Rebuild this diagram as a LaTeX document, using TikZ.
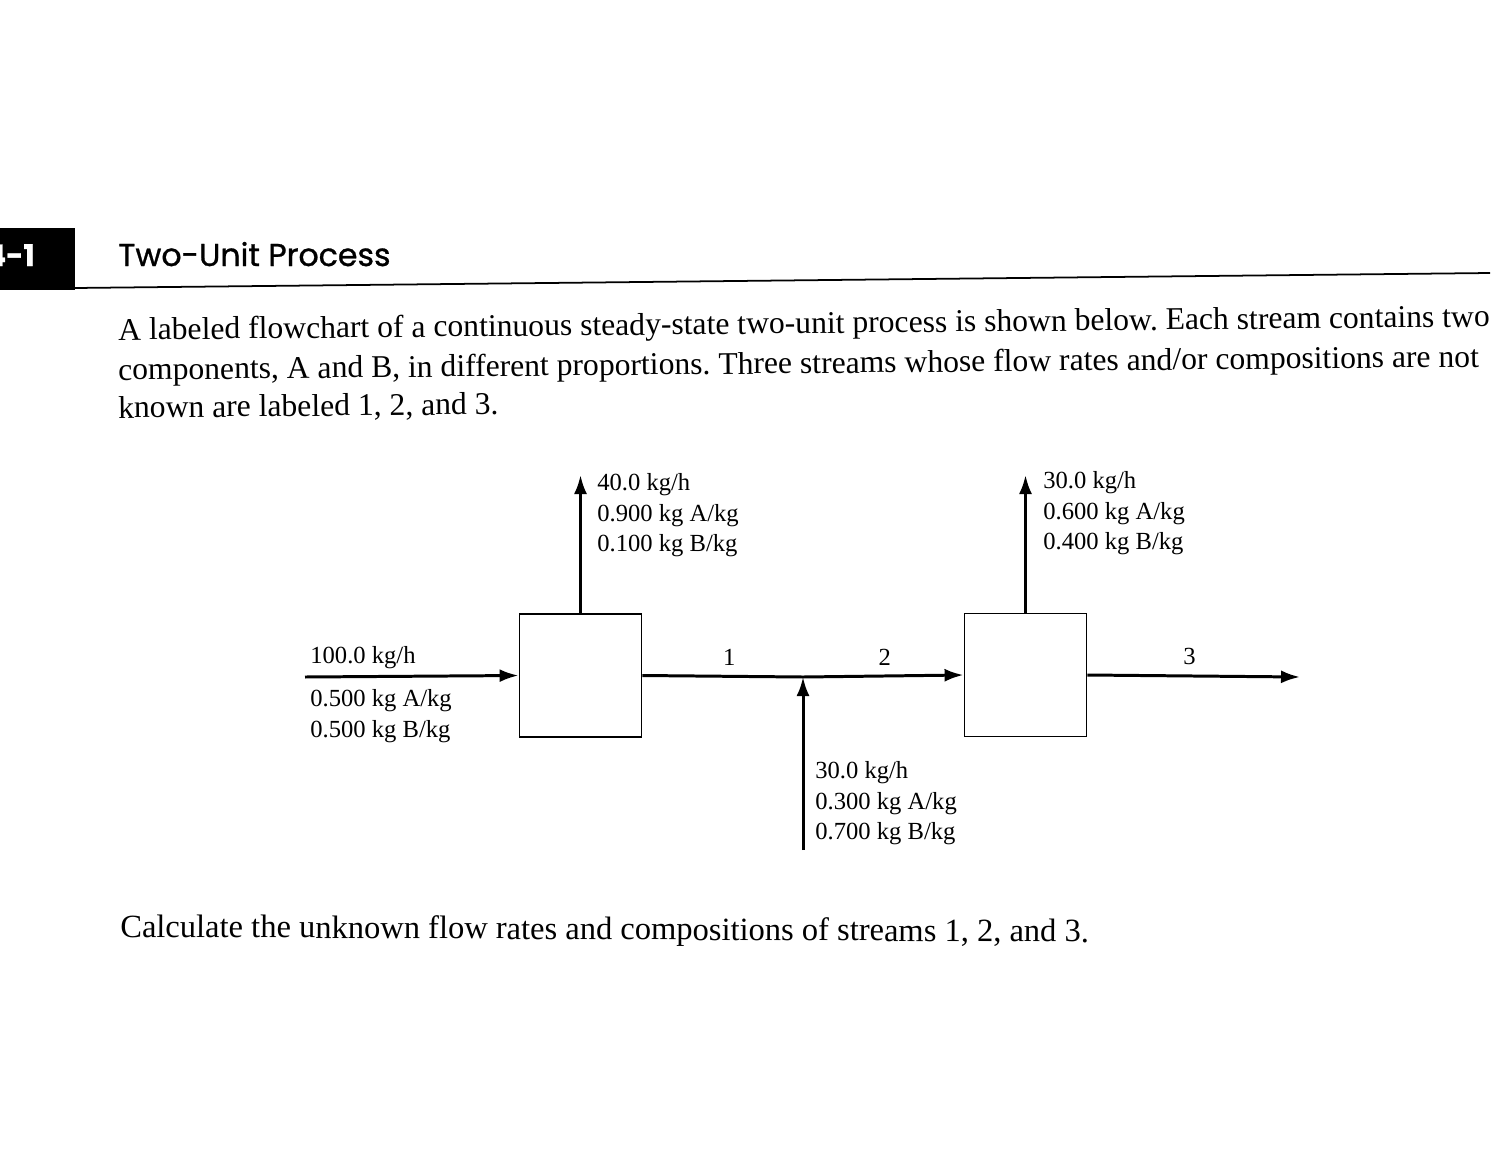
\documentclass[tikz,border=0pt]{standalone}
\usepackage{fontspec}
\setmainfont{Liberation Serif}
\newfontfamily\headfont[FakeBold = 0.9]{Poppins}
\usetikzlibrary{arrows.meta, positioning}
\frenchspacing

\begin{document}
\begin{tikzpicture}[x = 0.02cm, y = -0.02cm]
        \useasboundingbox (0, 0) rectangle (1500, 1159);
        \tikzset{
          unit/.style = {draw, rectangle, line width = 1.1pt, minimum width = 2.44cm, minimum height = 2.46cm, inner sep = 0pt},
          stream/.style = {draw, line width = 1.7pt},
          flow/.style = {stream, -{Latex[length = 3.8mm, width = 2.6mm]}},
          lbl/.style = {anchor = base west, inner sep = 0pt, font = \fontsize{14}{17}\selectfont},
          para/.style = {anchor = base west, inner sep = 0pt, font = \fontsize{18}{22}\selectfont}
        }

        % heading
        \fill (0, 228) rectangle (75, 290);
        \node[anchor = base east, inner sep = 0pt, text = white, font = \headfont\bfseries\fontsize{17}{20}\selectfont] at (35, 266) (num) {4-1};
        \node[anchor = base west, inner sep = 0pt, font = \headfont\fontsize{18}{20}\selectfont] at (118, 266) (title) {Two-Unit Process};
        \path[draw, line width = 1pt] (75, 288) -- (1490, 273);

        \node[para, rotate = 0.55] at (118, 340) (p1) {A labeled flowchart of a continuous steady-state two-unit process is shown below. Each stream contains two};
        \node[para, rotate = 0.55] at (118, 380) (p2) {components, A and B, in different proportions. Three streams whose flow rates and/or compositions are not};
        \node[para, rotate = 0.55] at (118, 418) (p3) {known are labeled 1, 2, and 3.};

        % units
        \node[unit] at (580.5, 675.5) (u1) {};
        \node[unit] at (1025.5, 675) (u2) {};
        \coordinate (feed) at (305, 677);
        \coordinate (mix) at (803, 677);
        \coordinate (fresh) at (803, 850);
        \coordinate (top1) at (580.5, 475);
        \coordinate (top2) at (1025.5, 475);
        \coordinate (prod) at (1300, 677);

        \path[flow] (feed) -- (u1.west);
        \path[flow] (u1.north) -- (top1);
        \path[stream] (u1.east) -- (mix) node [above = 2pt, pos = 0.54, font = \fontsize{14}{17}\selectfont] (s1) {1};
        \path[flow] (mix) -- (u2.west) node [above = 2pt, pos = 0.51, font = \fontsize{14}{17}\selectfont] (s2) {2};
        \path[flow] (fresh) -- (mix);
        \path[flow] (u2.north) -- (top2);
        \path[flow] (u2.east) -- (prod) node [above = 2pt, pos = 0.48, font = \fontsize{14}{17}\selectfont] (s3) {3};

        % stream data
        \node[lbl] at (310, 663) (f0) {100.0 kg/h};
        \node[lbl] at (310, 706) (f1) {0.500 kg A/kg};
        \node[lbl] at ([yshift = -0.62cm] f1.base west) (f2) {0.500 kg B/kg};

        \node[lbl] at (597, 490) (a0) {40.0 kg/h};
        \node[lbl] at ([yshift = -0.62cm] a0.base west) (a1) {0.900 kg A/kg};
        \node[lbl] at ([yshift = -0.62cm] a1.base west) (a2) {0.100 kg B/kg};

        \node[lbl] at (1043, 488) (b0) {30.0 kg/h};
        \node[lbl] at ([yshift = -0.62cm] b0.base west) (b1) {0.600 kg A/kg};
        \node[lbl] at ([yshift = -0.62cm] b1.base west) (b2) {0.400 kg B/kg};

        \node[lbl] at (815, 778) (c0) {30.0 kg/h};
        \node[lbl] at ([yshift = -0.62cm] c0.base west) (c1) {0.300 kg A/kg};
        \node[lbl] at ([yshift = -0.62cm] c1.base west) (c2) {0.700 kg B/kg};

        \node[para, font = \fontsize{18.5}{22}\selectfont, rotate = -0.3] at (120, 937) (q) {Calculate the unknown flow rates and compositions of streams 1, 2, and 3.};
\end{tikzpicture}
\end{document}
